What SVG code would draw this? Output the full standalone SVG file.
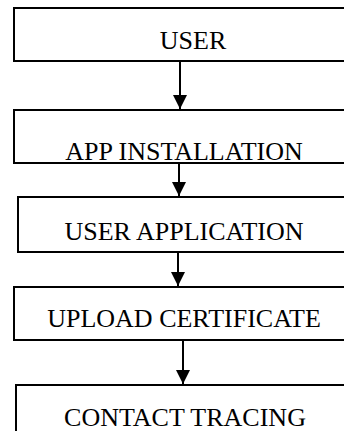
<svg xmlns="http://www.w3.org/2000/svg" width="344" height="431" viewBox="0 0 344 431">
  <style>
    .box { fill: #ffffff; stroke: #000000; stroke-width: 2; }
    .label { font-family: "Liberation Serif", "Times New Roman", serif; font-size: 26px; fill: #000000; text-anchor: middle; }
    .edge { stroke: #000000; stroke-width: 2; fill: none; }
  </style>
  <defs>
    <marker id="arrowhead" markerUnits="userSpaceOnUse" markerWidth="14" markerHeight="16" refX="14" refY="7" orient="auto">
      <path d="M0,0 L14,7 L0,14 Z" fill="#000000"/>
    </marker>
  </defs>
  <rect width="344" height="431" fill="#ffffff"/>

  <g id="node-user">
    <rect class="box" x="14" y="8" width="340" height="53"/>
    <text class="label" x="193" y="49">USER</text>
  </g>

  <g id="node-app-installation">
    <rect class="box" x="14" y="110" width="340" height="53"/>
    <text class="label" x="184" y="160">APP INSTALLATION</text>
  </g>

  <g id="node-user-application">
    <rect class="box" x="18" y="197" width="340" height="55"/>
    <text class="label" x="184" y="240">USER APPLICATION</text>
  </g>

  <g id="node-upload-certificate">
    <rect class="box" x="14" y="287" width="340" height="53"/>
    <text class="label" x="184" y="327">UPLOAD CERTIFICATE</text>
  </g>

  <g id="node-contact-tracing">
    <rect class="box" x="16" y="385" width="340" height="60"/>
    <text class="label" x="185" y="426">CONTACT TRACING</text>
  </g>

  <g id="connectors">
    <line class="edge" x1="180" y1="61" x2="180" y2="109" marker-end="url(#arrowhead)"/>
    <line class="edge" x1="179" y1="163" x2="179" y2="196" marker-end="url(#arrowhead)"/>
    <line class="edge" x1="178" y1="252" x2="178" y2="286" marker-end="url(#arrowhead)"/>
    <line class="edge" x1="183" y1="340" x2="183" y2="384" marker-end="url(#arrowhead)"/>
  </g>
</svg>
